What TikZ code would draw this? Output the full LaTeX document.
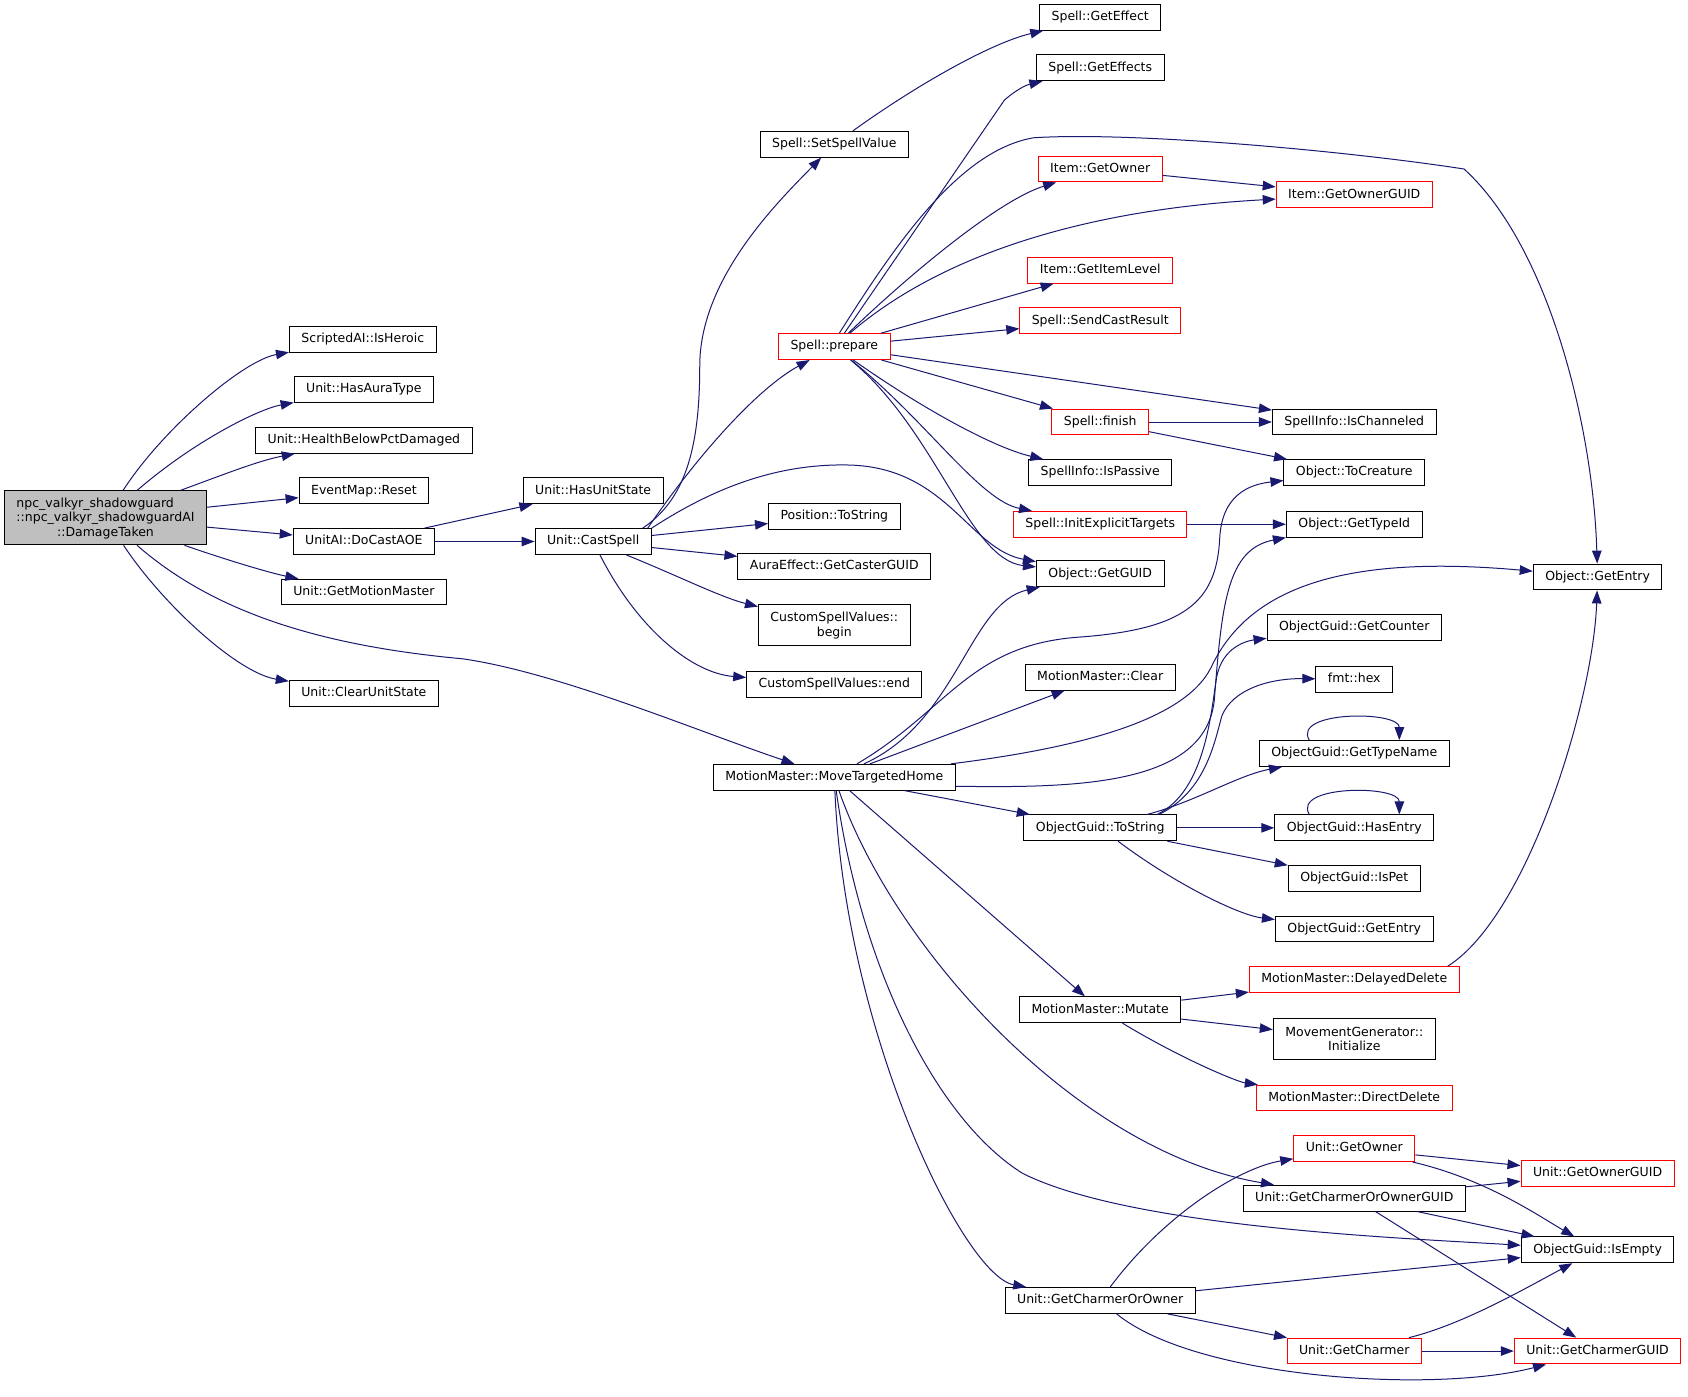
\documentclass[tikz,border=0pt]{standalone}
\usepackage{fontspec}
\setmainfont{DejaVu Sans}
\usetikzlibrary{arrows.meta}
\definecolor{navy}{HTML}{191970}
\definecolor{mgray}{HTML}{BFBFBF}
\begin{document}
\begin{tikzpicture}[x=1.0765pt,y=-1.0765pt,
	box/.style={draw=black,line width=1pt,fill=white,font=\fontsize{12.5}{14.5}\selectfont,inner xsep=12pt,inner ysep=0pt},
	fn/.style={box,minimum height=25.8pt,text height=9.5pt,text depth=3pt},
	redfn/.style={fn,draw=red},
	two/.style={box,align=center,minimum height=41pt},
	e/.style={draw=navy,line width=1pt,-{Triangle[length=13pt,width=9.5pt]}}]
				\fill[white] (0,0) rectangle (1568,1297);
				\useasboundingbox (0,0) rectangle (1568,1297);
				\node[box,fill=mgray,align=center,minimum height=54pt] (main) at (98,481){\begin{tabular}[b]{@{}l@{}}npc\_valkyr\_shadowguard\\::npc\_valkyr\_shadowguardAI\end{tabular}\\::DamageTaken};
				\node[fn] (heroic) at (337,315){ScriptedAI::IsHeroic};
				\node[fn] (auratype) at (338,362){Unit::HasAuraType};
				\node[fn] (health) at (338,409){Unit::HealthBelowPctDamaged};
				\node[fn] (reset) at (338,456){EventMap::Reset};
				\node[fn] (docast) at (338,503){UnitAI::DoCastAOE};
				\node[fn] (getmm) at (338,550){Unit::GetMotionMaster};
				\node[fn] (clearst) at (338,644){Unit::ClearUnitState};
				\node[fn] (hasst) at (551,456){Unit::HasUnitState};
				\node[fn] (cast) at (551,503){Unit::CastSpell};
				\node[fn] (setval) at (775,134){Spell::SetSpellValue};
				\node[redfn] (prep) at (775,322){Spell::prepare};
				\node[fn] (postr) at (775,480){Position::ToString};
				\node[fn] (caster) at (775,526){AuraEffect::GetCasterGUID};
				\node[two] (csvb) at (775,581){CustomSpellValues::\\begin};
				\node[fn] (csve) at (775,636){CustomSpellValues::end};
				\node[fn] (home) at (775,722){MotionMaster::MoveTargetedHome};
				\node[fn] (geteff) at (1022,16){Spell::GetEffect};
				\node[fn] (geteffs) at (1022,63){Spell::GetEffects};
				\node[redfn] (iown) at (1022,157){Item::GetOwner};
				\node[redfn] (ilvl) at (1022,251){Item::GetItemLevel};
				\node[redfn] (sendres) at (1022,298){Spell::SendCastResult};
				\node[redfn] (finish) at (1022,392){Spell::finish};
				\node[fn] (passive) at (1022,439){SpellInfo::IsPassive};
				\node[redfn] (inittg) at (1022,487){Spell::InitExplicitTargets};
				\node[fn] (guid) at (1022,533){Object::GetGUID};
				\node[fn] (clear) at (1022,629){MotionMaster::Clear};
				\node[fn] (tostr) at (1022,769){ObjectGuid::ToString};
				\node[fn] (mutate) at (1022,938){MotionMaster::Mutate};
				\node[fn] (gco) at (1022,1208){Unit::GetCharmerOrOwner};
				\node[redfn] (iownguid) at (1258,181){Item::GetOwnerGUID};
				\node[fn] (chan) at (1258,392){SpellInfo::IsChanneled};
				\node[fn] (tocre) at (1258,439){Object::ToCreature};
				\node[fn] (typeid) at (1258,487){Object::GetTypeId};
				\node[fn] (counter) at (1258,583){ObjectGuid::GetCounter};
				\node[fn] (hex) at (1258,631){fmt::hex};
				\node[fn] (typename) at (1258,700){ObjectGuid::GetTypeName};
				\node[fn] (hasentry) at (1258,769){ObjectGuid::HasEntry};
				\node[fn] (ispet) at (1258,816){ObjectGuid::IsPet};
				\node[fn] (gentry) at (1258,863){ObjectGuid::GetEntry};
				\node[redfn] (deldel) at (1258,910){MotionMaster::DelayedDelete};
				\node[two] (mginit) at (1258,965){MovementGenerator::\\Initialize};
				\node[redfn] (dirdel) at (1258,1020){MotionMaster::DirectDelete};
				\node[redfn] (uown) at (1258,1067){Unit::GetOwner};
				\node[fn] (gcoguid) at (1258,1113){Unit::GetCharmerOrOwnerGUID};
				\node[redfn] (charmer) at (1258,1255){Unit::GetCharmer};
				\node[fn] (oentry) at (1484,536){Object::GetEntry};
				\node[redfn] (uownguid) at (1484,1090){Unit::GetOwnerGUID};
				\node[fn] (isempty) at (1484,1161){ObjectGuid::IsEmpty};
				\node[redfn] (charmguid) at (1484,1255){Unit::GetCharmerGUID};
				% from DamageTaken
				\draw[e] (main) .. controls (150,400) and (225,335) .. (heroic);
				\draw[e] (main) .. controls (180,410) and (240,380) .. (auratype);
				\draw[e] (main) .. controls (210,440) and (240,428) .. (health);
				\draw[e] (main) -- (reset);
				\draw[e] (main) -- (docast);
				\draw[e] (main) .. controls (210,520) and (250,532) .. (getmm);
				\draw[e] (main) .. controls (150,560) and (220,625) .. (clearst);
				\draw[e] (main) .. controls (200,570) and (300,600) .. (430,612) .. controls (520,625) and (650,680) .. (home);
				\draw[e] (docast) -- (hasst);
				\draw[e] (docast) -- (cast);
				\draw[e] ([xshift=-9pt]cast.north east) .. controls (635,465) and (650,420) .. (650,340) .. controls (650,260) and (720,190) .. (setval);
				\draw[e] ([xshift=-4pt]cast.north east) .. controls (650,420) and (705,360) .. (prep);
				\draw[e] (cast.north east) .. controls (660,455) and (720,430) .. (790,432) .. controls (880,435) and (900,510) .. (guid);
				\draw[e] (cast) -- (postr);
				\draw[e] (cast) -- (caster);
				\draw[e] (cast) .. controls (630,535) and (670,555) .. (csvb);
				\draw[e] (cast) .. controls (590,580) and (640,625) .. (csve);
				\draw[e] (setval) .. controls (850,80) and (920,40) .. (geteff);
				% Spell::prepare
				\draw[e] ([xshift=10pt]prep.north) -- (933,93) .. controls (943,84) and (953,79) .. (geteffs);
				\draw[e] ([xshift=5pt]prep.north) .. controls (830,230) and (890,140) .. (960,128) .. controls (1050,122) and (1250,140) .. (1360,157) .. controls (1440,230) and (1480,400) .. (oentry);
				\draw[e] (prep) .. controls (850,250) and (930,185) .. (iown);
				\draw[e] (prep) .. controls (870,240) and (1000,195) .. (iownguid);
				\draw[e] (prep) -- (ilvl);
				\draw[e] (prep) -- (sendres);
				\draw[e] (prep) -- (chan);
				\draw[e] (prep) -- (finish);
				\draw[e] (prep) .. controls (850,375) and (920,415) .. (passive);
				\draw[e] (prep) .. controls (860,390) and (910,465) .. (inittg);
				\draw[e] (prep) .. controls (870,400) and (900,520) .. (guid);
				\draw[e] (iown) -- (iownguid);
				\draw[e] (finish) -- (chan);
				\draw[e] (finish) -- (tocre);
				\draw[e] (inittg) -- (typeid);
				% MoveTargetedHome
				\draw[e] (home) .. controls (890,670) and (900,560) .. (guid);
				\draw[e] (home) .. controls (880,660) and (900,600) .. (1000,592) .. controls (1100,585) and (1130,560) .. (1133,500) .. controls (1135,460) and (1160,450) .. (tocre);
				\draw[e] (home) -- (clear);
				\draw[e] ([xshift=-5pt]home.north east) .. controls (1000,695) and (1100,670) .. (1125,620) .. controls (1160,545) and (1250,515) .. (oentry);
				\draw[e] ([yshift=-9pt]home.east) .. controls (1000,732) and (1120,730) .. (1128,650) .. controls (1135,560) and (1140,510) .. (typeid);
				\draw[e] (home) -- (tostr);
				\draw[e] (home) -- (mutate);
				\draw[e] (home) .. controls (830,880) and (1000,1070) .. (gcoguid);
				\draw[e] (home) .. controls (800,900) and (870,1040) .. (950,1090) .. controls (1050,1140) and (1300,1150) .. (isempty);
				\draw[e] (home) .. controls (785,960) and (895,1185) .. (gco);
				% ObjectGuid::ToString
				\draw[e] ([xshift=-30pt]tostr.north east) .. controls (1110,745) and (1150,720) .. (typename);
				\draw[e] (tostr) -- (hasentry);
				\draw[e] (tostr) -- (ispet);
				\draw[e] (tostr) .. controls (1090,820) and (1150,850) .. (gentry);
				\draw[e] ([xshift=-20pt]tostr.north east) .. controls (1120,735) and (1125,660) .. (1130,630) .. controls (1135,600) and (1160,595) .. (counter);
				\draw[e] ([xshift=-18pt]tostr.north east) .. controls (1120,735) and (1128,690) .. (1135,665) .. controls (1145,640) and (1180,630) .. (hex);
				\draw[e] ([xshift=-45pt]typename.north) .. controls (1200,660) and (1300,660) .. ([xshift=45pt]typename.north);
				\draw[e] ([xshift=-45pt]hasentry.north) .. controls (1200,729) and (1300,729) .. ([xshift=45pt]hasentry.north);
				% Mutate and the charmer calls
				\draw[e] (mutate) -- (deldel);
				\draw[e] (mutate) -- (mginit);
				\draw[e] (mutate) .. controls (1100,985) and (1150,1005) .. (dirdel);
				\draw[e] ([xshift=-12pt]deldel.north east) .. controls (1420,850) and (1480,650) .. (oentry);
				\draw[e] (gco) .. controls (1080,1130) and (1150,1085) .. (uown);
				\draw[e] (gco) -- (isempty);
				\draw[e] (gco) -- (charmer);
				\draw[e] (gco) .. controls (1110,1280) and (1330,1295) .. (charmguid);
				\draw[e] (uown) -- (uownguid);
				\draw[e] (uown) .. controls (1380,1095) and (1430,1130) .. (isempty);
				\draw[e] (gcoguid) -- (uownguid);
				\draw[e] (gcoguid) -- (isempty);
				\draw[e] (gcoguid) -- (charmguid);
				\draw[e] (charmer) .. controls (1360,1230) and (1420,1195) .. (isempty);
				\draw[e] (charmer) -- (charmguid);
				\end{tikzpicture}
\end{document}
